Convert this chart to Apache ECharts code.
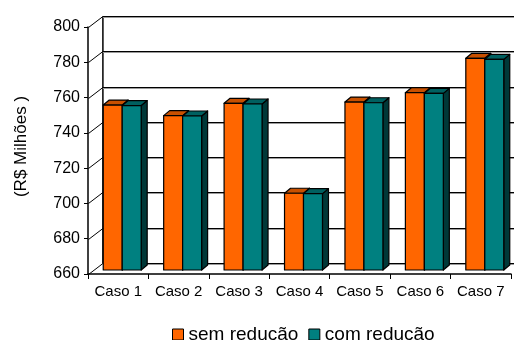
<!DOCTYPE html>
<html>
<head>
<meta charset="utf-8">
<script src="https://cdn.jsdelivr.net/npm/echarts@6/dist/echarts.min.js"></script>
<style>
  html, body { margin: 0; padding: 0; background: #fff; }
  #chart { width: 514px; height: 340px; }
</style>
</head>
<body>
<div id="chart"></div>
<script>
// Custo total por caso (R$ milhões)
const categories = ['Caso 1', 'Caso 2', 'Caso 3', 'Caso 4', 'Caso 5', 'Caso 6', 'Caso 7'];
const semReducao = [753.5, 747.5, 754.5, 703.5, 755.2, 760.5, 780.0];
const comReducao = [753.2, 747.3, 754.1, 703.3, 754.8, 760.1, 779.4];
const yTicks = [660, 680, 700, 720, 740, 760, 780, 800];
const seriesNames = ['sem redução', 'com redução'];

const Y_MIN = yTicks[0];
const Y_MAX = yTicks[yTicks.length - 1];
const Y_STEP = yTicks[1] - yTicks[0];

// pseudo-3D geometry (pixels)
const WALL_DX = 14.4, WALL_DY = -11.4;     // depth of floor / side wall
const BAR_DX0 = 4, BAR_DY0 = -4;           // bars sit slightly behind the front edge
const BAR_DEPTH_DX = 6, BAR_DEPTH_DY = -5; // thickness of each column
const BAR_W_RATIO = 0.314;                 // column width / category width

const FONT = 'Liberation Sans, Arial, sans-serif';

const palette = [
  { front: '#FF6600', top: '#C85000', side: '#7A3000' },
  { front: '#008080', top: '#006060', side: '#003838' }
];

function barRenderer(k) {
  const c = palette[k];
  return function (params, api) {
    const idx = api.value(0);
    const val = api.value(1);
    const pTop = api.coord([idx, val]);
    const pBase = api.coord([idx, Y_MIN]);
    const w = api.size([1, 0])[0] * BAR_W_RATIO;
    const x0 = pTop[0] + BAR_DX0 + (k === 0 ? -w : 0);
    const x1 = x0 + w;
    const yT = pTop[1] + BAR_DY0;
    const yB = pBase[1] + BAR_DY0;
    const dx = BAR_DEPTH_DX, dy = BAR_DEPTH_DY;
    const stroke = { stroke: '#000', lineWidth: 1.2, lineJoin: 'round' };
    return {
      type: 'group',
      children: [
        { type: 'polygon', shape: { points: [[x1, yT], [x1 + dx, yT + dy], [x1 + dx, yB + dy], [x1, yB]] },
          style: Object.assign({ fill: c.side }, stroke) },
        { type: 'polygon', shape: { points: [[x0, yT], [x0 + dx, yT + dy], [x1 + dx, yT + dy], [x1, yT]] },
          style: Object.assign({ fill: c.top }, stroke) },
        { type: 'polygon', shape: { points: [[x0, yB], [x0, yT], [x1, yT], [x1, yB]] },
          style: Object.assign({ fill: c.front }, stroke) }
      ]
    };
  };
}

// back wall gridlines, side wall diagonals and wall edge
function frameRenderer(params, api) {
  const cs = params.coordSys;
  const v = api.value(1);
  const y = Math.round(api.coord([0, v])[1]) + 0.5;
  const xl = cs.x + 0.5;
  const bx = xl + WALL_DX;
  const by = Math.round(y + WALL_DY) + 0.5;
  const xr = cs.x + cs.width + WALL_DX + 20;
  const children = [
    { type: 'line', shape: { x1: bx, y1: by + 1, x2: xr, y2: by + 1 }, style: { stroke: '#9a9a9a', lineWidth: 1 } },
    { type: 'line', shape: { x1: bx, y1: by, x2: xr, y2: by }, style: { stroke: '#000', lineWidth: 1 } },
    { type: 'line', shape: { x1: xl, y1: y, x2: bx, y2: by }, style: { stroke: '#000', lineWidth: 1 } }
  ];
  if (params.dataIndex === 0) {
    children.push({ type: 'line',
      shape: { x1: bx, y1: Math.round(cs.y + WALL_DY) + 0.5, x2: bx, y2: by },
      style: { stroke: '#000', lineWidth: 1.5 } });
  }
  return { type: 'group', children: children };
}

const chart = echarts.init(document.getElementById('chart'), null, { renderer: 'canvas' });

chart.setOption({
  animation: false,
  backgroundColor: '#fff',
  grid: { left: 88, right: 3, top: 27, bottom: 66 },
  legend: {
    data: seriesNames,
    left: 172,
    top: 325,
    padding: 0,
    icon: 'rect',
    itemWidth: 11,
    itemHeight: 11,
    itemGap: 10,
    itemStyle: { borderColor: '#000', borderWidth: 1 },
    textStyle: { fontFamily: FONT, fontSize: 19, color: '#000', padding: [0, 0, 0, 0] }
  },
  xAxis: {
    type: 'category',
    data: categories,
    boundaryGap: true,
    axisLine: { lineStyle: { color: '#000', width: 1.5 } },
    axisTick: { show: true, length: 5, lineStyle: { color: '#000' } },
    axisLabel: { interval: 0, fontFamily: FONT, fontSize: 15, color: '#000', margin: 10 },
    splitLine: { show: false }
  },
  yAxis: {
    type: 'value',
    min: Y_MIN,
    max: Y_MAX,
    interval: Y_STEP,
    name: '(R$ Milhões )',
    nameLocation: 'middle',
    nameGap: 58,
    nameRotate: 90,
    nameTextStyle: { fontFamily: FONT, fontSize: 17, color: '#000', padding: [0, 0, 0, 8] },
    axisLine: { show: true, lineStyle: { color: '#000', width: 1.5 } },
    axisTick: { show: true, length: 4, lineStyle: { color: '#000' } },
    axisLabel: { fontFamily: FONT, fontSize: 16, color: '#000', margin: 8 },
    splitLine: { show: false }
  },
  series: [
    {
      type: 'custom',
      name: 'frame',
      silent: true,
      z: 1,
      renderItem: frameRenderer,
      data: yTicks.map(v => [0, v]),
      encode: { x: 0, y: 1 }
    },
    {
      type: 'custom',
      name: seriesNames[0],
      z: 2,
      itemStyle: { color: palette[0].front },
      renderItem: barRenderer(0),
      data: semReducao.map((v, i) => [i, v]),
      encode: { x: 0, y: 1 }
    },
    {
      type: 'custom',
      name: seriesNames[1],
      z: 3,
      itemStyle: { color: palette[1].front },
      renderItem: barRenderer(1),
      data: comReducao.map((v, i) => [i, v]),
      encode: { x: 0, y: 1 }
    }
  ]
});
</script>
</body>
</html>
